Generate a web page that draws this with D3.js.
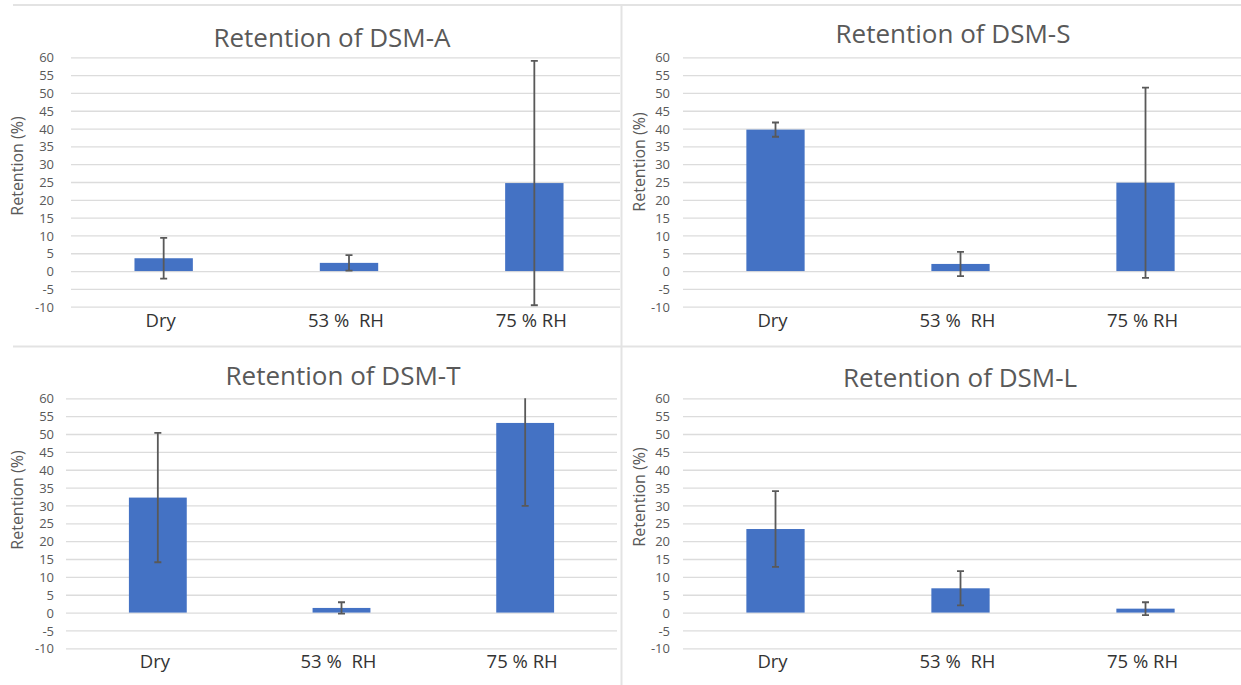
<!DOCTYPE html>
<html>
<head>
<meta charset="utf-8">
<script src="https://cdn.jsdelivr.net/npm/d3@7"></script>
<style>
  html, body { margin: 0; padding: 0; background: #fff; }
  svg { display: block; font-family: "Open Sans", "DejaVu Sans", sans-serif; }
</style>
</head>
<body>
<svg id="chart" width="1241" height="685"></svg>
<script>
// Conditions shared by every panel
const categories = ["Dry", "53 %  RH", "75 % RH"];
const yTickValues = [60, 55, 50, 45, 40, 35, 30, 25, 20, 15, 10, 5, 0, -5, -10];
const titles = ["Retention of DSM-A", "Retention of DSM-S", "Retention of DSM-T", "Retention of DSM-L"];

// Mean retention (%) and error (±) per condition
const meanA = [3.6, 2.3, 24.7];
const errA  = [5.7, 2.2, 34.3];
const meanS = [39.7, 2.0, 24.8];
const errS  = [2.0, 3.4, 26.7];
const meanT = [32.2, 1.3, 53.1];
const errT  = [18.1, 1.6, 23.2];
const meanL = [23.4, 6.8, 1.1];
const errL  = [10.6, 4.8, 1.8];

const seriesMeans = [meanA, meanS, meanT, meanL];
const seriesErrs  = [errA, errS, errT, errL];

// Panel geometry (plot area in page pixels)
const layout = [
  { x0: 71,  x1: 627,  clipR: 620,  yTop: 57.3,  yBot: 306.7, titleX: 332, titleY: 47,  axisX: 17,  axisY: 166, tickX: 54 },
  { x0: 683, x1: 1238, clipR: 1241, yTop: 57.3,  yBot: 306.7, titleX: 953, titleY: 43,  axisX: 639, axisY: 162, tickX: 670 },
  { x0: 66,  x1: 617,  clipR: 617,  yTop: 398.3, yBot: 648.3, titleX: 343, titleY: 385, axisX: 17,  axisY: 500, tickX: 54 },
  { x0: 683, x1: 1238, clipR: 1241, yTop: 398.3, yBot: 648.3, titleX: 960, titleY: 387, axisX: 639, axisY: 497, tickX: 670 }
];

const svg = d3.select("#chart");
const defs = svg.append("defs");

const barColor = "#4472C4";
const gridColor = "#dcdcdc";
const textColor = "#595959";
const frameColor = "#e3e3e3";

layout.forEach((L, i) => {
  const g = svg.append("g");
  const y = d3.scaleLinear().domain([-10, 60]).range([L.yBot, L.yTop]);
  const x = d3.scaleBand().domain(categories).range([L.x0, L.x1]).paddingInner(0.685).paddingOuter(0.3425);

  const clipId = "clip" + i;
  defs.append("clipPath").attr("id", clipId)
    .append("rect")
    .attr("x", L.x0).attr("y", L.yTop)
    .attr("width", L.clipR - L.x0).attr("height", L.yBot - L.yTop);

  // Horizontal gridlines
  const gridAxis = d3.axisLeft(y).tickValues(yTickValues).tickSize(-(L.clipR - L.x0)).tickFormat("");
  const gridG = g.append("g").attr("transform", `translate(${L.x0},0)`).call(gridAxis);
  gridG.select(".domain").remove();
  gridG.selectAll(".tick line").attr("stroke", gridColor).attr("stroke-width", 1.3);

  // Y tick labels
  const labelAxis = d3.axisLeft(y).tickValues(yTickValues).tickSize(0).tickPadding(0).tickFormat(d => String(d));
  const labG = g.append("g").attr("transform", `translate(${L.tickX},0)`).call(labelAxis);
  labG.select(".domain").remove();
  labG.selectAll(".tick text")
    .attr("fill", textColor)
    .style("font-size", "13px")
    .style("font-family", "'Open Sans', sans-serif")
    .attr("text-anchor", "end")
    .attr("dy", "0.35em");

  const plot = g.append("g").attr("clip-path", `url(#${clipId})`);
  const means = seriesMeans[i];
  const errs = seriesErrs[i];
  const rows = categories.map((c, k) => ({ c, m: means[k], e: errs[k] }));

  // Bars
  plot.selectAll("rect.bar").data(rows).join("rect")
    .attr("class", "bar")
    .attr("x", d => x(d.c))
    .attr("width", x.bandwidth())
    .attr("y", d => y(Math.max(0, d.m)))
    .attr("height", d => Math.abs(y(d.m) - y(0)))
    .attr("fill", barColor);

  // Error bars
  const capHalf = 3.5;
  const eb = plot.selectAll("g.err").data(rows).join("g").attr("class", "err")
    .attr("stroke", "#595959").attr("stroke-width", 1.8);
  eb.append("line")
    .attr("x1", d => x(d.c) + x.bandwidth() / 2).attr("x2", d => x(d.c) + x.bandwidth() / 2)
    .attr("y1", d => y(d.m + d.e)).attr("y2", d => y(d.m - d.e));
  eb.append("line")
    .attr("x1", d => x(d.c) + x.bandwidth() / 2 - capHalf).attr("x2", d => x(d.c) + x.bandwidth() / 2 + capHalf)
    .attr("y1", d => y(d.m + d.e)).attr("y2", d => y(d.m + d.e));
  eb.append("line")
    .attr("x1", d => x(d.c) + x.bandwidth() / 2 - capHalf).attr("x2", d => x(d.c) + x.bandwidth() / 2 + capHalf)
    .attr("y1", d => y(d.m - d.e)).attr("y2", d => y(d.m - d.e));

  // Category labels
  const xAxis = d3.axisBottom(x).tickSize(0).tickPadding(0);
  const xG = g.append("g").attr("transform", `translate(-3,${L.yBot + 20})`).call(xAxis);
  xG.select(".domain").remove();
  xG.selectAll(".tick text")
    .attr("fill", "#333333")
    .attr("dy", "0em")
    .style("font-size", "18.5px")
    .style("font-family", "'Open Sans', sans-serif")
    .style("white-space", "pre");

  // Title
  g.append("text")
    .attr("x", L.titleX).attr("y", L.titleY)
    .attr("text-anchor", "middle")
    .attr("fill", textColor)
    .style("font-size", "26px")
    .text(titles[i]);

  // Y axis title
  g.append("text")
    .attr("transform", `translate(${L.axisX},${L.axisY}) rotate(-90)`)
    .attr("text-anchor", "middle")
    .attr("dy", "0.35em")
    .attr("fill", textColor)
    .style("font-size", "16px")
    .text("Retention (%)");
});

// Panel frame lines
const frame = svg.append("g").attr("stroke", frameColor).attr("stroke-width", 2).attr("fill", "none");
frame.append("line").attr("x1", 13).attr("x2", 1241).attr("y1", 5).attr("y2", 5);
frame.append("line").attr("x1", 13).attr("x2", 1241).attr("y1", 346.5).attr("y2", 346.5);
frame.append("line").attr("x1", 621.5).attr("x2", 621.5).attr("y1", 5).attr("y2", 685);
</script>
</body>
</html>
